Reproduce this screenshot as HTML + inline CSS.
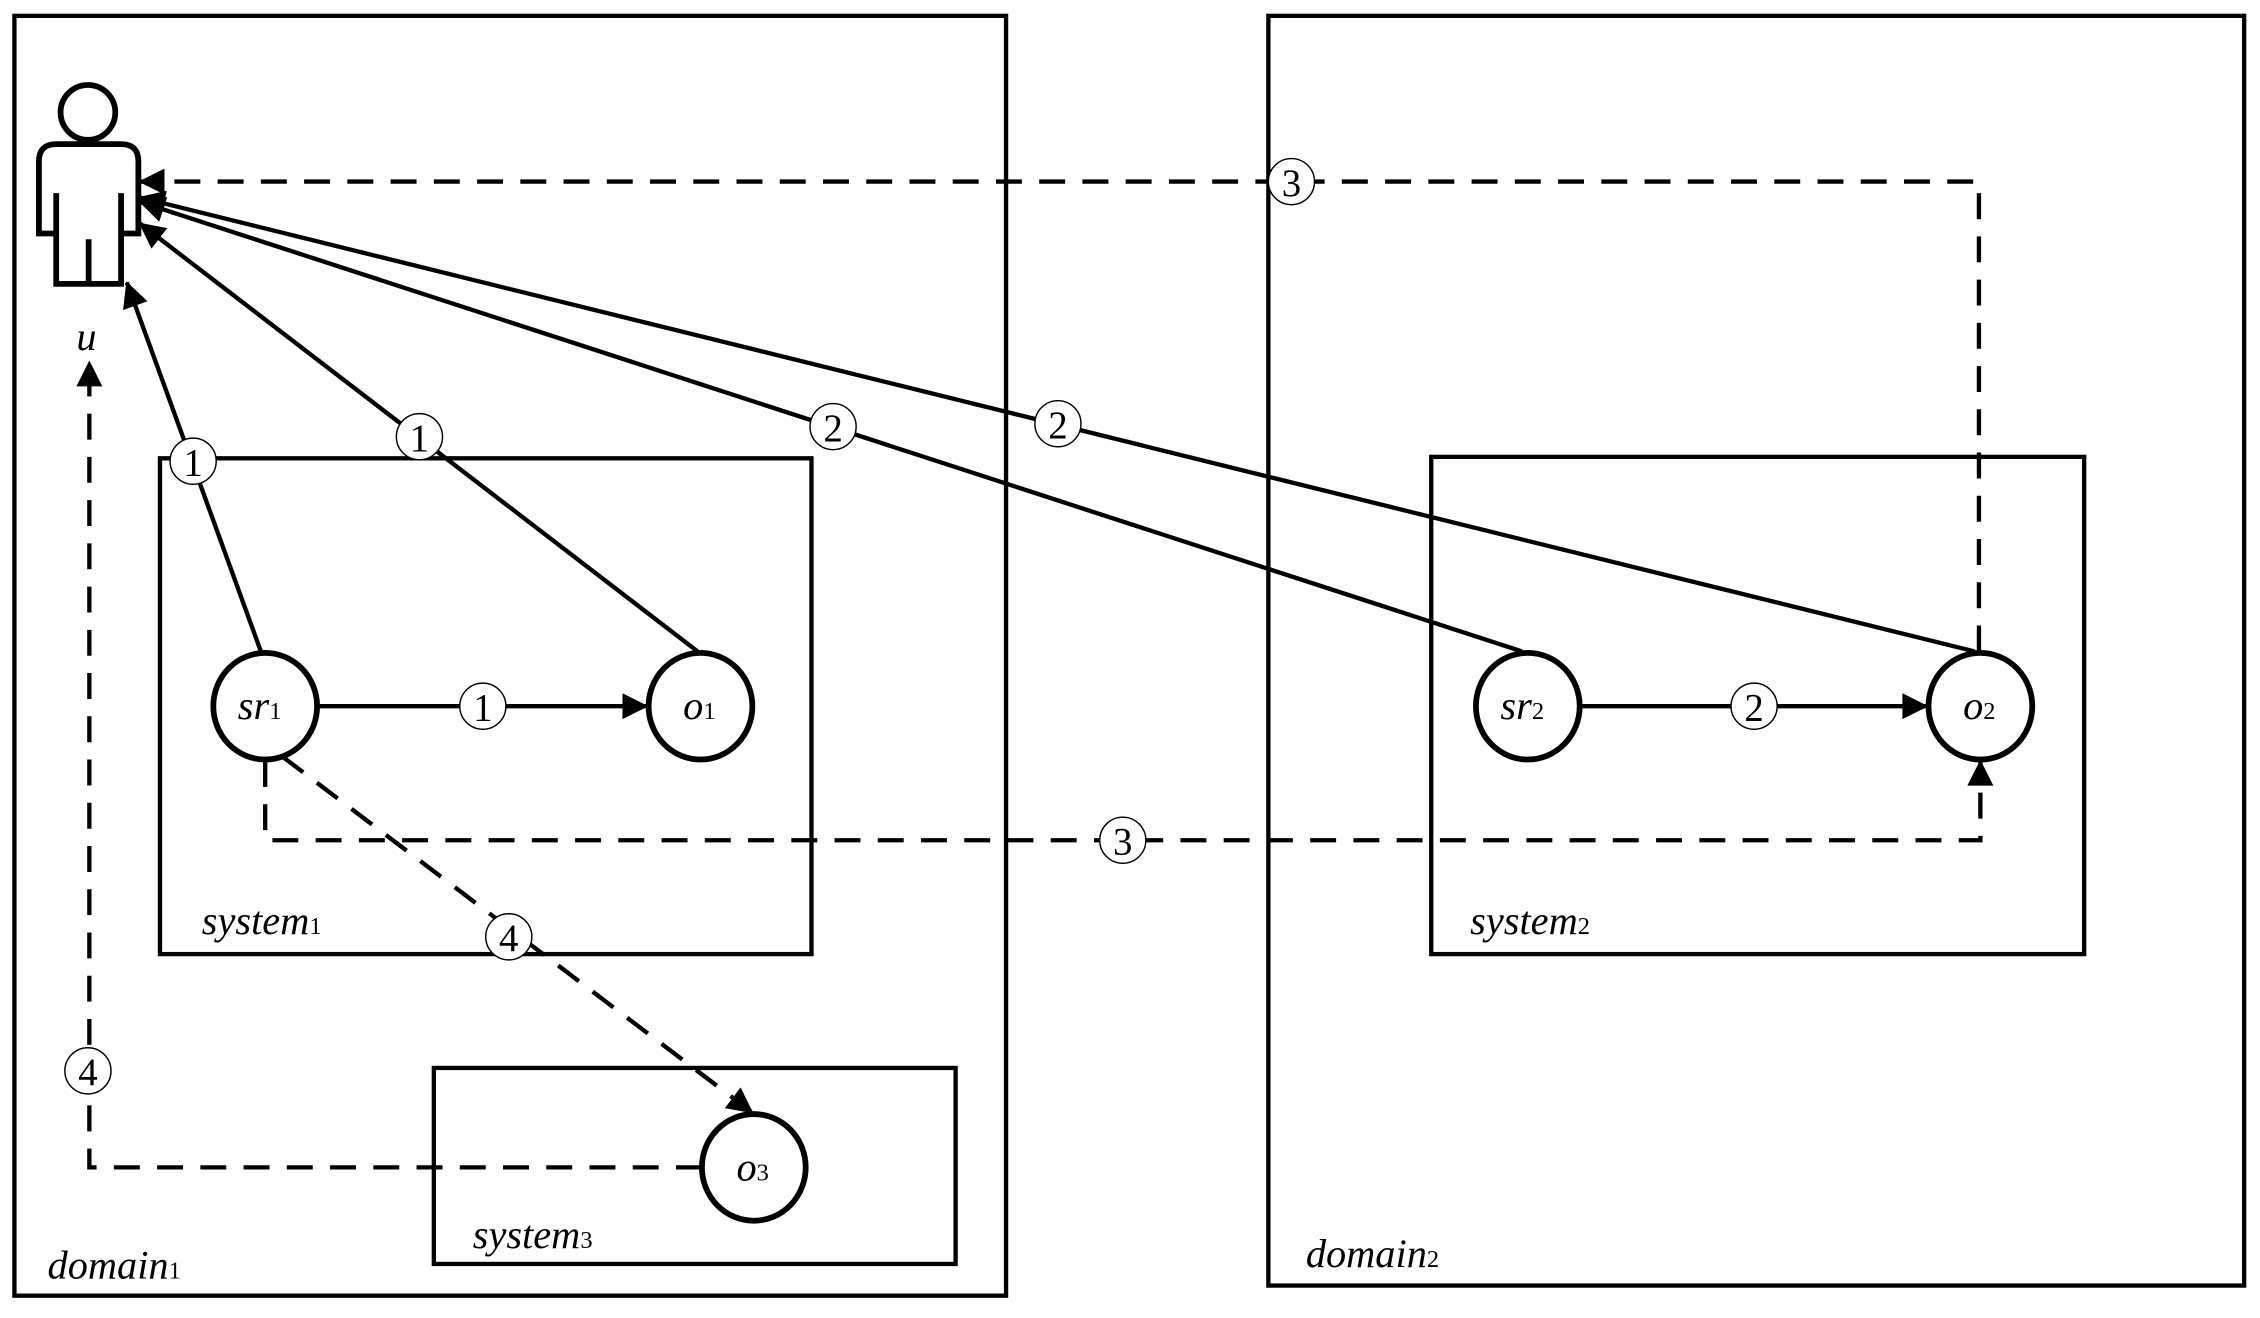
<!DOCTYPE html>
<html><head><meta charset="utf-8"><style>
html,body{margin:0;padding:0;background:#fff;}
svg{display:block;}
text{font-family:"Liberation Serif",serif;font-style:italic;fill:#000;}
.n{font-style:normal;}
</style></head><body>
<svg width="2260" height="1318" viewBox="0 0 1568 914.5" preserveAspectRatio="none" xmlns="http://www.w3.org/2000/svg">
<defs>
<marker id="b" viewBox="0 0 10 10" refX="9.5" refY="5" markerWidth="24" markerHeight="18" markerUnits="userSpaceOnUse" orient="auto">
<path d="M0,0 L10,5 L0,10 z" fill="#000"/></marker>
</defs>
<g fill="none" stroke="#000" stroke-width="3">
<rect x="10" y="11" width="688" height="888"/>
<rect x="880" y="11" width="677" height="881"/>
<rect x="111" y="318" width="452" height="344"/>
<rect x="993" y="317" width="453" height="345"/>
<rect x="301" y="741" width="362" height="136"/>
<!-- person -->
<ellipse cx="61" cy="78" rx="19" ry="19" stroke-width="4"/>
<path d="M39,134 L39,162 L27,162 L27,112 Q27,100 39,100 L84,100 Q96,100 96,112 L96,162 L84,162 L84,134 M39,162 L39,197 L84,197 L84,162 M61.5,166 L61.5,197" stroke-width="4"/>
<!-- nodes -->
<ellipse cx="184" cy="490" rx="36" ry="37" stroke-width="4"/>
<ellipse cx="486" cy="490" rx="36" ry="37" stroke-width="4"/>
<ellipse cx="1060" cy="490" rx="36" ry="37" stroke-width="4"/>
<ellipse cx="1374" cy="490" rx="36" ry="37" stroke-width="4"/>
<ellipse cx="523" cy="810" rx="36" ry="37" stroke-width="4"/>
<!-- solid arrows -->
<line x1="181" y1="452" x2="88" y2="196" marker-end="url(#b)"/>
<line x1="484" y1="452" x2="97" y2="155" marker-end="url(#b)"/>
<line x1="1056" y1="452" x2="97" y2="140" marker-end="url(#b)"/>
<line x1="1370" y1="452" x2="97" y2="137" marker-end="url(#b)"/>
<line x1="221" y1="490" x2="449" y2="490" marker-end="url(#b)"/>
<line x1="1097" y1="490" x2="1337" y2="490" marker-end="url(#b)"/>
<!-- dashed -->
<g stroke-dasharray="18,12">
<polyline points="1373,452 1373,126 97,126" marker-end="url(#b)"/>
<polyline points="184,528 184,583 1374,583 1374,528" marker-end="url(#b)"/>
<line x1="196" y1="525" x2="522" y2="772" marker-end="url(#b)"/>
<polyline points="487,810 62,810 62,251" marker-end="url(#b)"/>
</g>
</g>
<!-- circled labels -->
<g>
<g fill="#fff" stroke="#000" stroke-width="1">
<circle cx="134" cy="320" r="16"/>
<circle cx="291" cy="303" r="16"/>
<circle cx="335" cy="490" r="16"/>
<circle cx="578" cy="296" r="16"/>
<circle cx="734" cy="294" r="16"/>
<circle cx="1217" cy="490" r="16"/>
<circle cx="896" cy="126" r="16"/>
<circle cx="779" cy="583" r="16"/>
<circle cx="353" cy="650" r="16"/>
<circle cx="61" cy="743" r="16"/>
</g>
<g font-size="27" text-anchor="middle">
<text x="134" y="330" class="n">1</text>
<text x="291" y="313" class="n">1</text>
<text x="335" y="500" class="n">1</text>
<text x="578" y="306" class="n">2</text>
<text x="734" y="304" class="n">2</text>
<text x="1217" y="500" class="n">2</text>
<text x="896" y="136" class="n">3</text>
<text x="779" y="593" class="n">3</text>
<text x="353" y="660" class="n">4</text>
<text x="61" y="753" class="n">4</text>
</g>
</g>
<!-- text labels -->
<g font-size="28">
<text x="53" y="243">u</text>
<text x="165" y="499">sr<tspan font-size="17" font-style="normal">1</tspan></text>
<text x="474" y="499">o<tspan font-size="17" font-style="normal">1</tspan></text>
<text x="1041" y="499">sr<tspan font-size="17" font-style="normal">2</tspan></text>
<text x="1362" y="499">o<tspan font-size="17" font-style="normal">2</tspan></text>
<text x="511" y="819">o<tspan font-size="17" font-style="normal">3</tspan></text>
<text x="140" y="648">system<tspan font-size="17" font-style="normal">1</tspan></text>
<text x="1020" y="648">system<tspan font-size="17" font-style="normal">2</tspan></text>
<text x="328" y="866">system<tspan font-size="17" font-style="normal">3</tspan></text>
<text x="33" y="887">domain<tspan font-size="17" font-style="normal">1</tspan></text>
<text x="906" y="879">domain<tspan font-size="17" font-style="normal">2</tspan></text>
</g>
</svg>
</body></html>
